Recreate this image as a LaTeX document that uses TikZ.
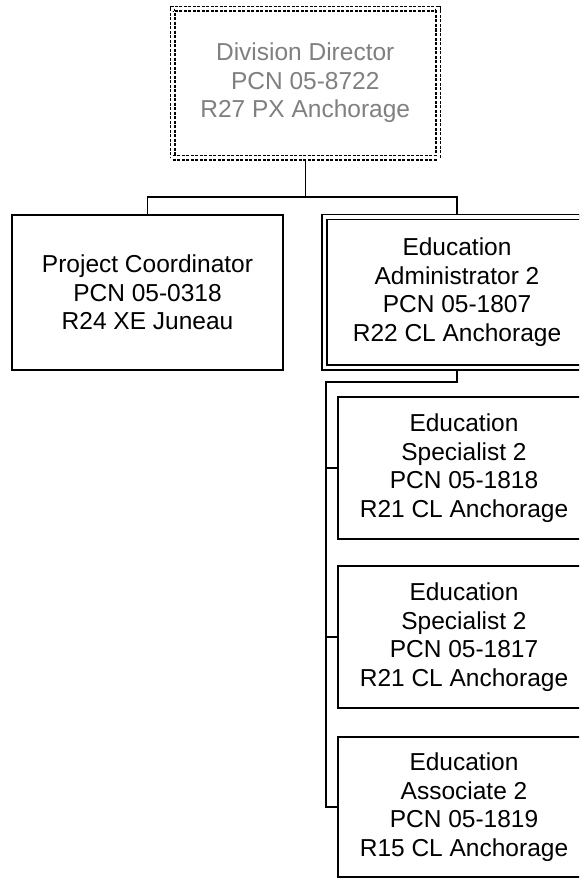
\documentclass[tikz,border=0pt]{standalone}
\usepackage{fontspec}
\setmainfont{Liberation Sans}
\definecolor{dirgray}{HTML}{808080}
\begin{document}
\begin{tikzpicture}[x=1pt,y=-1pt,
  box/.style={draw=black, line width=1.5pt, rectangle, inner sep=0pt, outer sep=0pt, align=center,
    font=\fontsize{24.5}{28.5}\selectfont},
  dbox/.style={box, double, double distance=3.5pt},
  dirbox/.style={box, double, double distance=3pt, dash pattern=on 3pt off 1.5pt, text=dirgray},
  conn/.style={draw=black, line width=1.5pt}]
\useasboundingbox (0,0) rectangle (579,878);
\clip (0,0) rectangle (579,878);
\fill[white] (0,0) rectangle (579,878);

\node[dirbox, minimum width=265.5pt, minimum height=149pt] (dir) at (305.25,83)
  {Division Director\\PCN 05-8722\\R27 PX Anchorage};
\node[box, minimum width=271pt, minimum height=155pt] (pc) at (147.5,292.5)
  {Project Coordinator\\PCN 05-0318\\R24 XE Juneau};
\node[dbox, minimum width=265pt, minimum height=150.5pt] (ea) at (457,292.25)
  {Education\\Administrator 2\\PCN 05-1807\\R22 CL Anchorage};
\node[box, minimum width=252pt, minimum height=142pt] (s1) at (464,468)
  {Education\\Specialist 2\\PCN 05-1818\\R21 CL Anchorage};
\node[box, minimum width=252pt, minimum height=142pt] (s2) at (464,637)
  {Education\\Specialist 2\\PCN 05-1817\\R21 CL Anchorage};
\node[box, minimum width=252pt, minimum height=140pt] (s3) at (464,807)
  {Education\\Associate 2\\PCN 05-1819\\R15 CL Anchorage};

\coordinate (bus1) at (305.25,197);
\coordinate (bus2) at (326,382);

\draw[conn] ([yshift=-3pt]dir.south) -- (bus1);
\draw[conn] (pc.north) |- (bus1) -| ([yshift=3pt]ea.north);
\draw[conn] ([yshift=-3pt]ea.south) |- (bus2) -- (bus2 |- s3.west) -- (s3.west);
\draw[conn] (bus2 |- s1.west) -- (s1.west);
\draw[conn] (bus2 |- s2.west) -- (s2.west);
\end{tikzpicture}
\end{document}
